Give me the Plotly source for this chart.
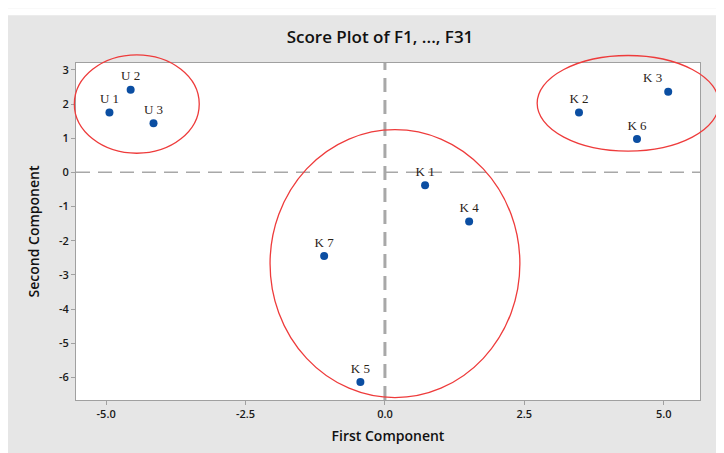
import plotly.graph_objects as go

# ---- data ----
labels = ["U 1", "U 2", "U 3", "K 1", "K 2", "K 3", "K 4", "K 5", "K 6", "K 7"]
first_component = [-4.94, -4.56, -4.15, 0.72, 3.48, 5.08, 1.51, -0.44, 4.52, -1.09]
second_component = [1.75, 2.42, 1.44, -0.38, 1.75, 2.36, -1.44, -6.13, 0.98, -2.45]

x_tick_vals = [-5.0, -2.5, 0.0, 2.5, 5.0]
x_tick_text = ["-5.0", "-2.5", "0.0", "2.5", "5.0"]
y_tick_vals = [-6, -5, -4, -3, -2, -1, 0, 1, 2, 3]
y_tick_text = ["-6", "-5", "-4", "-3", "-2", "-1", "0", "1", "2", "3"]

# group ellipses: (center x, center y, half width, half height) in data units
group_ellipses = [
    (-4.45, 2.0, 1.12, 1.44),
    (4.36, 2.02, 1.63, 1.40),
    (0.18, -2.67, 2.24, 3.92),
]

X_RANGE = [-5.54, 5.65]
Y_RANGE = [-6.66, 3.2]

# page has an 8px body margin, so the figure is placed at (8, 8)
W, H = 716, 445
ML, MR, MT, MB = 68, 24, 55, 51


def px(xv):
    return (xv - X_RANGE[0]) / (X_RANGE[1] - X_RANGE[0])


def py(yv):
    return (yv - Y_RANGE[0]) / (Y_RANGE[1] - Y_RANGE[0])


positions = ["top left" if l == "K 3" else "top center" for l in labels]

fig = go.Figure()
fig.add_trace(go.Scatter(
    x=first_component, y=second_component, mode="markers+text",
    text=labels, textposition=positions,
    textfont=dict(family="Liberation Serif, Times New Roman, serif", size=13, color="#2a2218"),
    marker=dict(size=8, color="#0b4ea2"),
    cliponaxis=False, showlegend=False, hoverinfo="x+y+text",
))

shapes = []
pw = W - ML - MR
ph = H - MT - MB
# white strip along the top of the image
shapes.append(dict(type="rect", xref="paper", yref="paper",
                   x0=-ML / pw, x1=(W - ML) / pw,
                   y0=(H - MB - 7) / ph, y1=(H - MB) / ph,
                   fillcolor="white", line=dict(width=0), layer="above"))

# reference dashed lines
shapes.append(dict(type="line", xref="x", yref="paper", x0=0, x1=0, y0=0, y1=1,
                   line=dict(color="#a8a8a8", width=3, dash="14px,8px"), layer="below"))
shapes.append(dict(type="line", xref="paper", yref="y", x0=0, x1=1, y0=0, y1=0,
                   line=dict(color="#a8a8a8", width=1.5, dash="14px,8px"), layer="below"))

for cx, cy, rx, ry in group_ellipses:
    shapes.append(dict(type="circle", xref="paper", yref="paper",
                       x0=px(cx - rx), x1=px(cx + rx), y0=py(cy - ry), y1=py(cy + ry),
                       line=dict(color="#ee3b3b", width=1.3), layer="above"))

tick_font = dict(family="Open Sans, sans-serif", size=11, color="#1a1a1a", weight=600)

fig.update_layout(
    width=W, height=H,
    margin=dict(l=ML, r=MR, t=MT, b=MB, pad=0),
    paper_bgcolor="#e6e6e6", plot_bgcolor="white",
    title=dict(text="Score Plot of F1, ..., F31", x=(ML + pw / 2 - 8) / W, xanchor="center",
               y=1 - 29 / H, yanchor="middle",
               font=dict(family="Open Sans, sans-serif", size=17, color="#111111", weight=600)),
    shapes=shapes,
    font=dict(family="Open Sans, sans-serif", color="#222222"),
)
fig.update_xaxes(range=X_RANGE, tickvals=x_tick_vals, ticktext=x_tick_text,
                 showgrid=False, zeroline=False, showline=True, mirror=True,
                 linecolor="#a0a0a0", linewidth=1, ticks="outside", ticklen=4,
                 tickcolor="#a0a0a0", tickfont=tick_font,
                 title=dict(text="First Component", standoff=10,
                            font=dict(size=14, color="#111111", weight=600)))
fig.update_yaxes(range=Y_RANGE, tickvals=y_tick_vals, ticktext=y_tick_text,
                 showgrid=False, zeroline=False, showline=True, mirror=True,
                 linecolor="#a0a0a0", linewidth=1, ticks="outside", ticklen=4,
                 tickcolor="#a0a0a0", tickfont=tick_font,
                 title=dict(text="Second Component", standoff=16,
                            font=dict(size=14, color="#111111", weight=600)))

fig.write_html("out.html")
